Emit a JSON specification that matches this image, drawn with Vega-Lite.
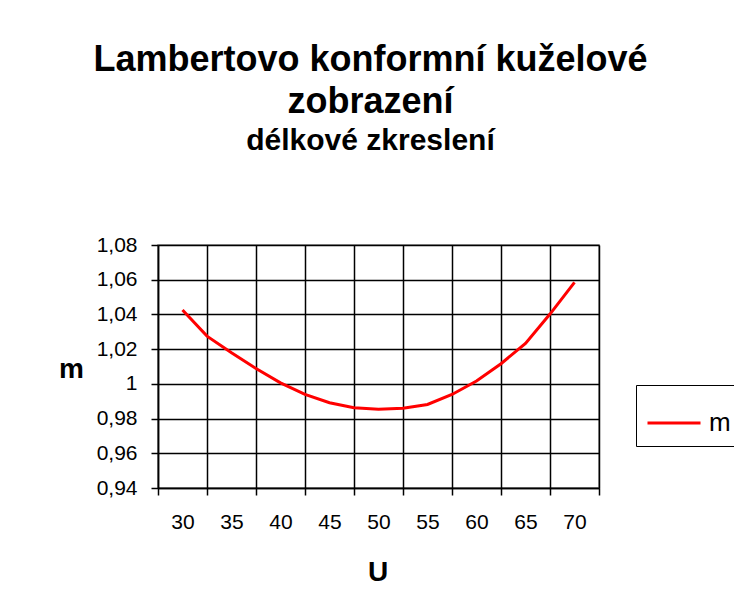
{
  "$schema": "https://vega.github.io/schema/vega-lite/v6.json",
  "width": 441,
  "height": 243,
  "autosize": {"type": "none"},
  "padding": {"left": 158, "top": 245, "right": 135, "bottom": 125},
  "background": "white",
  "config": {
    "font": "Liberation Sans",
    "view": {"stroke": "#808080", "strokeWidth": 1.5}
  },
  "title": {
    "text": ["Lambertovo konformní kuželové", "zobrazení"],
    "subtitle": "délkové zkreslení",
    "anchor": "middle",
    "frame": "group",
    "dx": -8,
    "offset": 77,
    "font": "Liberation Sans",
    "fontSize": 36,
    "fontWeight": "bold",
    "color": "black",
    "lineHeight": 42,
    "subtitleFont": "Liberation Sans",
    "subtitleFontSize": 30,
    "subtitleFontWeight": "bold",
    "subtitleColor": "black",
    "subtitleLineHeight": 30,
    "subtitlePadding": 5
  },
  "data": {
    "values": [
      {"U": 30, "m": 1.0425, "series": "m"},
      {"U": 32.5, "m": 1.0275, "series": "m"},
      {"U": 35, "m": 1.0179, "series": "m"},
      {"U": 37.5, "m": 1.0088, "series": "m"},
      {"U": 40, "m": 1.0006, "series": "m"},
      {"U": 42.5, "m": 0.9939, "series": "m"},
      {"U": 45, "m": 0.9891, "series": "m"},
      {"U": 47.5, "m": 0.9863, "series": "m"},
      {"U": 50, "m": 0.9854, "series": "m"},
      {"U": 52.5, "m": 0.9859, "series": "m"},
      {"U": 55, "m": 0.9881, "series": "m"},
      {"U": 57.5, "m": 0.9939, "series": "m"},
      {"U": 60, "m": 1.0016, "series": "m"},
      {"U": 62.5, "m": 1.0116, "series": "m"},
      {"U": 65, "m": 1.0233, "series": "m"},
      {"U": 67.5, "m": 1.0402, "series": "m"},
      {"U": 70, "m": 1.0585, "series": "m"}
    ]
  },
  "mark": {"type": "line", "strokeWidth": 3},
  "encoding": {
    "x": {
      "field": "U",
      "type": "quantitative",
      "scale": {"domain": [27.5, 72.5], "nice": false, "zero": false},
      "axis": {
        "values": [27.5, 32.5, 37.5, 42.5, 47.5, 52.5, 57.5, 62.5, 67.5, 72.5],
        "labelExpr": "datum.value < 72 ? format(datum.value + 2.5, 'd') : ''",
        "labelOffset": 24.5,
        "labelFontSize": 21,
        "labelColor": "black",
        "labelPadding": 16,
        "labelFlush": false,
        "labelOverlap": false,
        "tickSize": 7,
        "tickColor": "black",
        "tickWidth": 1.5,
        "domainColor": "black",
        "domainWidth": 1.5,
        "grid": true,
        "gridColor": "black",
        "gridWidth": 1.5,
        "gridOpacity": 1,
        "title": "U",
        "titleFontSize": 28,
        "titleFontWeight": "bold",
        "titleColor": "black",
        "titleX": 219.5,
        "titleY": 84,
        "titleBaseline": "middle",
        "titleAlign": "center"
      }
    },
    "y": {
      "field": "m",
      "type": "quantitative",
      "scale": {"domain": [0.94, 1.08], "nice": false, "zero": false},
      "axis": {
        "values": [0.94, 0.96, 0.98, 1.0, 1.02, 1.04, 1.06, 1.08],
        "labelExpr": "replace(format(datum.value, '.3~g'), '.', ',')",
        "labelFontSize": 21,
        "labelColor": "black",
        "labelPadding": 14,
        "labelFlush": false,
        "labelOverlap": false,
        "tickSize": 7,
        "tickColor": "black",
        "tickWidth": 1.5,
        "domainColor": "black",
        "domainWidth": 1.5,
        "grid": true,
        "gridColor": "black",
        "gridWidth": 1.5,
        "gridOpacity": 1,
        "title": "m",
        "titleAngle": 0,
        "titleFontSize": 28,
        "titleFontWeight": "bold",
        "titleColor": "black",
        "titleX": -87,
        "titleY": 124,
        "titleBaseline": "middle",
        "titleAlign": "center"
      }
    },
    "color": {
      "field": "series",
      "type": "nominal",
      "scale": {"range": ["#ff0000"]},
      "legend": {
        "orient": "none",
        "legendX": 478,
        "legendY": 140,
        "title": null,
        "strokeColor": "black",
        "fillColor": "white",
        "padding": 10,
        "symbolType": "stroke",
        "symbolSize": 2809,
        "symbolStrokeWidth": 3,
        "labelFontSize": 26,
        "labelColor": "black",
        "labelOffset": 7
      }
    }
  }
}
